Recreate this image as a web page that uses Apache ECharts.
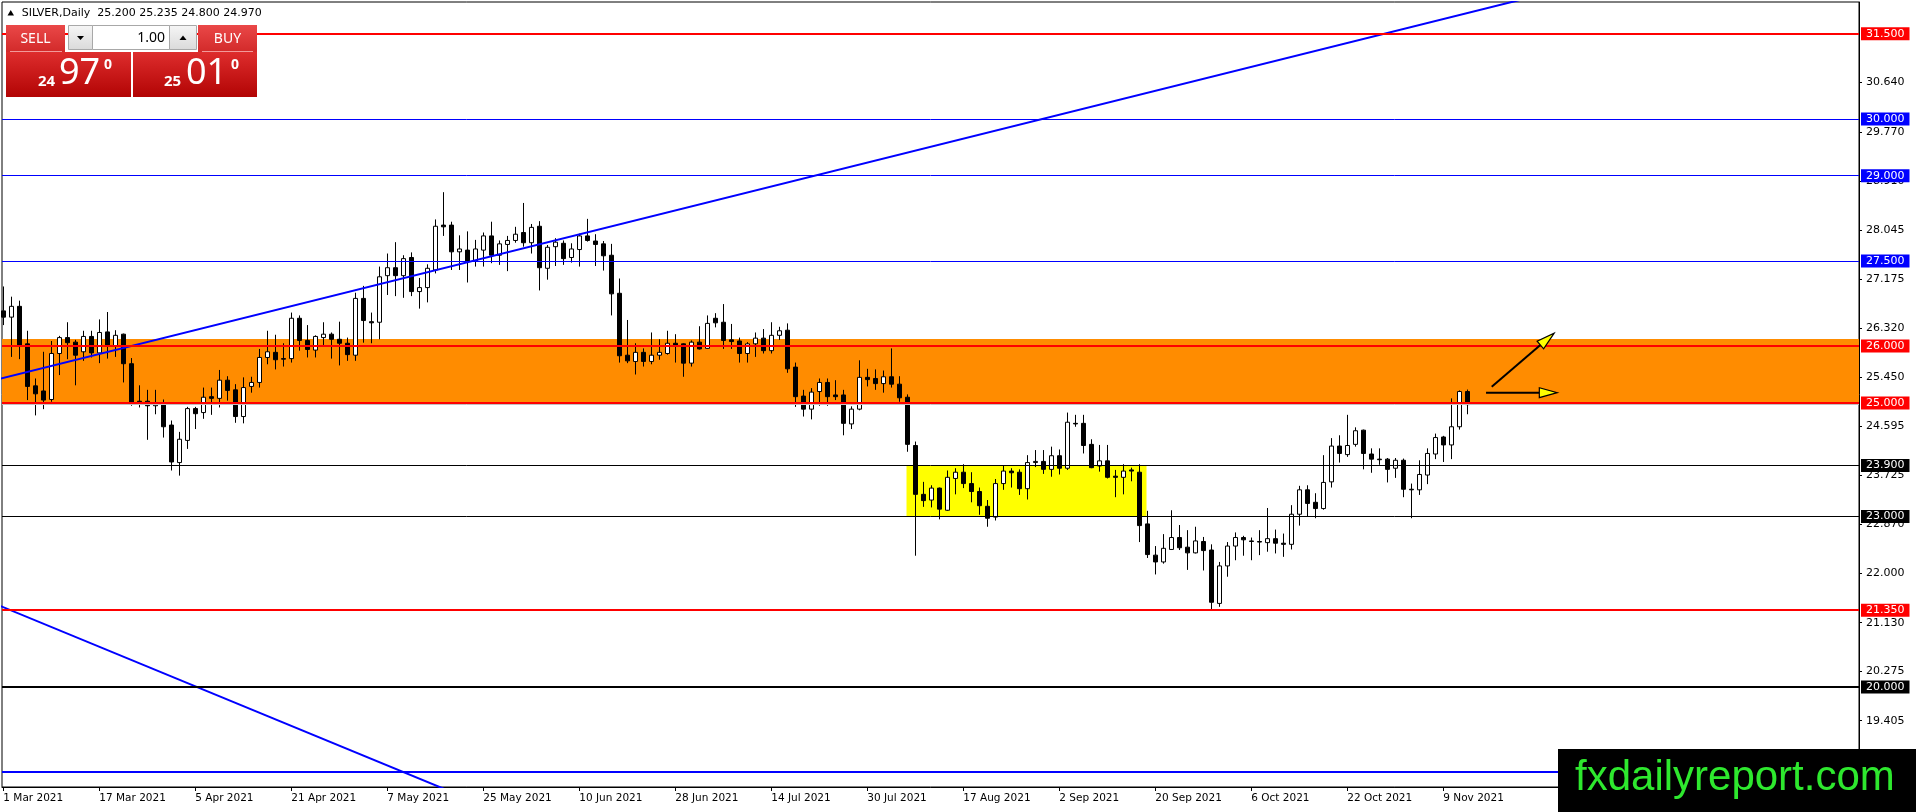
<!DOCTYPE html>
<html><head><meta charset="utf-8">
<script src="https://cdn.jsdelivr.net/npm/echarts@6/dist/echarts.min.js"></script>
<style>html,body{margin:0;padding:0;background:#fff}#c{width:1916px;height:812px}</style>
</head><body><div id="c"></div>
<script>
// ---- data ----
const dates = [
'2021.03.01','2021.03.02','2021.03.03','2021.03.04','2021.03.05','2021.03.08','2021.03.09','2021.03.10','2021.03.11','2021.03.12',
'2021.03.15','2021.03.16','2021.03.17','2021.03.18','2021.03.19','2021.03.22','2021.03.23','2021.03.24','2021.03.25','2021.03.26',
'2021.03.29','2021.03.30','2021.03.31','2021.04.01','2021.04.05','2021.04.06','2021.04.07','2021.04.08','2021.04.09','2021.04.12',
'2021.04.13','2021.04.14','2021.04.15','2021.04.16','2021.04.19','2021.04.20','2021.04.21','2021.04.22','2021.04.23','2021.04.26',
'2021.04.27','2021.04.28','2021.04.29','2021.04.30','2021.05.03','2021.05.04','2021.05.05','2021.05.06','2021.05.07','2021.05.10',
'2021.05.11','2021.05.12','2021.05.13','2021.05.14','2021.05.17','2021.05.18','2021.05.19','2021.05.20','2021.05.21','2021.05.24',
'2021.05.25','2021.05.26','2021.05.27','2021.05.28','2021.05.31','2021.06.01','2021.06.02','2021.06.03','2021.06.04','2021.06.07',
'2021.06.08','2021.06.09','2021.06.10','2021.06.11','2021.06.14','2021.06.15','2021.06.16','2021.06.17','2021.06.18','2021.06.21',
'2021.06.22','2021.06.23','2021.06.24','2021.06.25','2021.06.28','2021.06.29','2021.06.30','2021.07.01','2021.07.02','2021.07.05',
'2021.07.06','2021.07.07','2021.07.08','2021.07.09','2021.07.12','2021.07.13','2021.07.14','2021.07.15','2021.07.16','2021.07.19',
'2021.07.20','2021.07.21','2021.07.22','2021.07.23','2021.07.26','2021.07.27','2021.07.28','2021.07.29','2021.07.30','2021.08.02',
'2021.08.03','2021.08.04','2021.08.05','2021.08.06','2021.08.09','2021.08.10','2021.08.11','2021.08.12','2021.08.13','2021.08.16',
'2021.08.17','2021.08.18','2021.08.19','2021.08.20','2021.08.23','2021.08.24','2021.08.25','2021.08.26','2021.08.27','2021.08.30',
'2021.08.31','2021.09.01','2021.09.02','2021.09.03','2021.09.06','2021.09.07','2021.09.08','2021.09.09','2021.09.10','2021.09.13',
'2021.09.14','2021.09.15','2021.09.16','2021.09.17','2021.09.20','2021.09.21','2021.09.22','2021.09.23','2021.09.24','2021.09.27',
'2021.09.28','2021.09.29','2021.09.30','2021.10.01','2021.10.04','2021.10.05','2021.10.06','2021.10.07','2021.10.08','2021.10.11',
'2021.10.12','2021.10.13','2021.10.14','2021.10.15','2021.10.18','2021.10.19','2021.10.20','2021.10.21','2021.10.22','2021.10.25',
'2021.10.26','2021.10.27','2021.10.28','2021.10.29','2021.11.01','2021.11.02','2021.11.03','2021.11.04','2021.11.05','2021.11.08',
'2021.11.09','2021.11.10','2021.11.11','2021.11.12'];

const open = [
26.62,26.51,26.70,26.04,25.30,25.21,25.06,25.87,26.15,26.07,
25.90,26.17,25.88,26.25,26.01,26.21,25.69,25.03,25.03,24.95,
24.98,24.61,23.95,24.34,24.90,24.83,25.11,25.08,25.40,25.23,
24.76,25.29,25.36,25.80,25.89,25.78,25.78,26.49,26.10,25.93,
26.15,26.21,26.12,26.05,25.84,26.84,26.43,26.42,27.24,27.38,
27.24,27.56,26.96,27.03,27.34,28.13,28.13,27.66,27.69,27.50,
27.69,27.94,27.60,27.79,27.86,28.00,27.82,28.11,27.37,27.75,
27.81,27.56,27.70,27.94,27.85,27.80,27.60,26.93,25.84,25.73,
25.89,25.73,25.84,25.87,26.05,26.04,25.70,26.07,25.96,26.49,
26.42,26.11,26.09,25.87,26.04,26.14,25.92,26.19,26.28,25.63,
25.12,24.89,25.20,25.36,25.14,25.14,24.63,24.89,25.45,25.43,
25.34,25.46,25.33,25.10,24.25,23.39,23.29,23.50,23.11,23.67,
23.78,23.58,23.44,23.18,22.99,23.58,23.80,23.78,23.49,23.95,
23.97,23.83,24.07,23.85,24.64,24.64,24.27,23.89,23.98,23.71,
23.69,23.82,23.78,22.87,22.32,22.20,22.42,22.63,22.46,22.36,
22.56,22.41,21.47,22.13,22.48,22.63,22.57,22.56,22.54,22.61,
22.53,22.51,23.04,23.47,23.25,23.14,23.61,24.24,24.09,24.27,
24.52,24.10,24.01,24.01,23.85,23.99,23.48,23.47,23.73,24.10,
24.40,24.26,24.58,25.20];

const high = [
27.05,26.87,26.80,26.27,25.43,25.90,26.09,26.18,26.42,26.11,
26.27,26.27,26.47,26.60,26.28,26.22,25.79,25.31,25.23,25.23,
25.06,24.69,24.49,24.93,24.93,25.27,25.27,25.58,25.47,25.33,
25.45,25.46,25.95,26.27,26.20,26.05,26.59,26.54,26.37,26.19,
26.42,26.24,26.43,26.15,26.94,27.06,26.59,27.40,27.63,27.83,
27.60,27.65,27.20,27.44,28.23,28.71,28.19,27.95,28.02,27.87,
28.00,28.19,27.86,27.94,28.10,28.52,28.15,28.20,27.78,27.90,
27.86,27.81,27.98,28.24,27.97,27.85,27.80,27.19,26.46,26.05,
25.96,26.24,26.12,26.27,26.21,26.05,26.10,26.35,26.54,26.58,
26.74,26.39,26.15,26.07,26.24,26.30,26.42,26.34,26.40,25.71,
25.23,25.26,25.43,25.43,25.40,25.23,24.94,25.75,25.60,25.59,
25.57,25.96,25.47,25.15,24.32,23.61,23.55,23.51,23.81,23.85,
23.92,23.78,23.51,23.29,23.66,23.89,23.85,23.83,24.08,24.17,
24.17,24.23,24.18,24.83,24.79,24.79,24.36,24.26,24.26,23.82,
23.92,23.86,23.92,23.10,22.48,22.69,23.11,22.85,22.76,22.82,
22.64,22.51,22.20,22.55,22.72,22.66,22.63,22.76,23.15,22.77,
22.70,23.20,23.54,23.55,23.41,24.08,24.38,24.43,24.79,24.57,
24.53,24.20,24.20,24.03,24.03,24.02,23.58,23.99,24.20,24.46,
24.42,25.08,25.22,25.235];

const low = [
26.37,25.81,25.77,25.05,24.78,24.89,25.02,25.49,25.77,25.31,
25.74,25.80,25.70,25.78,25.81,25.36,24.95,24.92,24.35,24.80,
24.39,23.81,23.72,24.19,24.54,24.72,24.79,24.92,25.04,24.65,
24.64,25.18,25.27,25.68,25.59,25.64,25.71,25.92,25.80,25.80,
26.02,25.78,25.66,25.74,25.74,26.06,26.05,26.12,26.90,26.88,
26.85,26.88,26.66,26.77,27.28,27.94,27.34,27.34,27.12,27.40,
27.40,27.46,27.43,27.32,27.82,27.75,27.63,26.98,27.17,27.41,
27.43,27.47,27.40,27.84,27.41,27.33,26.54,25.71,25.70,25.50,
25.64,25.68,25.76,25.85,25.71,25.46,25.64,25.94,25.95,26.33,
25.95,25.95,25.71,25.71,25.81,25.87,25.87,26.11,25.53,24.93,
24.76,24.71,24.95,24.95,25.05,24.43,24.54,24.87,25.29,25.23,
25.18,25.27,25.02,24.14,22.31,23.17,23.16,22.95,23.10,23.39,
23.50,23.25,23.03,22.82,22.93,23.47,23.51,23.38,23.30,23.87,
23.75,23.70,23.74,23.82,24.58,24.11,23.85,23.79,23.67,23.34,
23.39,23.62,22.55,22.27,21.98,22.17,22.41,22.41,22.06,22.35,
22.05,21.37,21.41,21.94,22.23,22.31,22.23,22.32,22.38,22.35,
22.29,22.42,22.84,23.00,22.97,23.12,23.51,23.95,24.05,24.23,
23.83,23.77,23.91,23.60,23.68,23.34,22.97,23.38,23.57,24.01,
23.96,24.01,24.53,24.80];

const close = [
26.51,26.70,26.02,25.29,25.16,25.05,25.87,26.15,26.06,25.84,
26.17,25.88,26.24,26.02,26.19,25.69,25.01,25.02,24.95,24.98,
24.58,23.96,24.36,24.90,24.81,25.10,25.08,25.40,25.22,24.76,
25.27,25.36,25.80,25.90,25.76,25.77,26.49,26.10,25.94,26.17,
26.21,26.12,26.05,25.85,26.84,26.45,26.41,27.22,27.38,27.24,
27.54,26.96,27.03,27.37,28.11,28.10,27.66,27.71,27.50,27.71,
27.94,27.60,27.80,27.86,27.97,27.82,28.09,27.38,27.74,27.83,
27.54,27.71,27.94,27.86,27.79,27.59,26.92,25.83,25.74,25.89,
25.73,25.84,25.89,26.05,26.02,25.70,26.07,25.95,26.40,26.41,
26.10,26.08,25.87,26.04,26.14,25.92,26.19,26.27,25.60,25.11,
24.89,25.19,25.36,25.11,25.11,24.64,24.89,25.45,25.41,25.34,
25.46,25.33,25.09,24.27,23.39,23.28,23.50,23.13,23.69,23.78,
23.58,23.44,23.19,22.97,23.58,23.80,23.77,23.49,23.95,23.97,
23.83,24.07,23.85,24.66,24.63,24.25,23.86,23.98,23.69,23.69,
23.80,23.80,22.84,22.33,22.20,22.44,22.63,22.45,22.36,22.57,
22.40,21.49,22.13,22.48,22.63,22.59,22.56,22.55,22.61,22.53,
22.51,23.04,23.47,23.23,23.14,23.60,24.24,24.11,24.25,24.51,
24.11,24.01,24.00,23.83,23.99,23.48,23.47,23.74,24.11,24.39,
24.26,24.58,25.20,24.97];

const dateTickIdx = [0,12,24,36,48,60,72,84,96,108,120,132,144,156,168,180];
const priceTicks = [19.405,20.275,21.130,22.000,22.870,23.725,24.595,25.450,26.320,27.175,28.045,28.910,29.770,30.640];
const levelValues = [31.5,30.0,29.0,27.5,26.0,25.0,23.9,23.0,21.35,20.0,18.5];
const bidPrice = 24.97;
const zoneX0 = [-5, 112.9];
const zoneX1 = [240, 142.9];
const zoneY0 = [25.0, 23.0];
const zoneY1 = [26.125, 23.9];
const upTrend = [[-1, 25.405], [200, 32.46]];
const downTrend = [[-1, 21.461], [60, 17.921]];
const arrowStart = [[186.05, 25.285], [185.34, 25.18]];
const arrowEnd = [[193.84, 26.225], [194.25, 25.18]];
const titleText = 'SILVER,Daily  25.200 25.235 24.800 24.970';

// ---- styles ----
const levelColors = ['#ff0000','#0000ff','#0000ff','#0000ff','#ff0000','#ff0000','#000000','#000000','#ff0000','#000000','#0000ff'];
const levelWidths = [2,1,1,1,2,2,1,1,2,2,2];
const zoneColors = ['#ff8c00','#ffff00'];
const AX_FONT = '"DejaVu Sans", Verdana, sans-serif';
const MON = ['Jan','Feb','Mar','Apr','May','Jun','Jul','Aug','Sep','Oct','Nov','Dec'];
function fmtDate(s){ const p = s.split('.'); return (+p[2]) + ' ' + MON[+p[1]-1] + ' ' + p[0]; }

const candleData = dates.map((d,i)=>[i, open[i], close[i], low[i], high[i]]);

const chart = echarts.init(document.getElementById('c'), null, {renderer:'canvas'});

const redGrad = () => new echarts.graphic.LinearGradient(0,0,0,1,[{offset:0,color:'#ea4848'},{offset:1,color:'#d22a2a'}]);
const bigGrad = () => new echarts.graphic.LinearGradient(0,0,0,1,[{offset:0,color:'#de2d2d'},{offset:1,color:'#b20404'}]);
const greyGrad = () => new echarts.graphic.LinearGradient(0,0,0,1,[{offset:0,color:'#f6f6f6'},{offset:1,color:'#dadada'}]);
const PF = '"Noto Sans", Roboto, sans-serif';

const option = {
  animation: false,
  backgroundColor: '#ffffff',
  grid: { left: 2, right: 57, top: 2, bottom: 25, show: true, borderColor: '#000', borderWidth: 1, backgroundColor: '#fff' },
  xAxis: {
    type: 'value', min: -0.1625, max: 231.96, position: 'bottom',
    axisLine: { show: true, onZero: false, lineStyle: { color: '#000', width: 1 } },
    axisTick: { show: true, customValues: dateTickIdx, length: 4, lineStyle: { color: '#000' } },
    axisLabel: { customValues: dateTickIdx, formatter: v => { const d = dates[Math.round(v)]; return d ? fmtDate(d) : ''; },
      align: 'left', margin: 6, color: '#000', fontSize: 10.5, fontFamily: AX_FONT },
    splitLine: { show: false }
  },
  yAxis: {
    type: 'value', min: 18.238, max: 32.058, position: 'right', scale: true,
    axisLine: { show: true, onZero: false, lineStyle: { color: '#000', width: 1 } },
    axisTick: { show: true, customValues: priceTicks, length: 3, lineStyle: { color: '#000' } },
    axisLabel: { customValues: priceTicks, formatter: v => v.toFixed(3), margin: 7, color: '#000', fontSize: 11, fontFamily: AX_FONT, align: 'left' },
    splitLine: { show: false }
  },
  series: [
    {
      type: 'custom', name: 'zones', z: 1, silent: true,
      data: zoneX0.map((x,i)=>[x, zoneX1[i], zoneY0[i], zoneY1[i]]),
      encode: { x: [0,1], y: [2,3] },
      renderItem: (params, api) => {
        const p1 = api.coord([api.value(0), api.value(3)]);
        const p2 = api.coord([api.value(1), api.value(2)]);
        const cs = params.coordSys;
        const r = echarts.graphic.clipRectByRect(
          { x: p1[0], y: p1[1], width: p2[0]-p1[0], height: p2[1]-p1[1] },
          { x: cs.x, y: cs.y, width: cs.width, height: cs.height });
        return r ? { type: 'rect', shape: r, style: { fill: zoneColors[params.dataIndex] } } : null;
      }
    },
    {
      type: 'candlestick', name: 'SILVER', z: 3, barWidth: 4,
      data: candleData,
      encode: { x: 0, y: [1,2,3,4] },
      itemStyle: { color: '#ffffff', color0: '#000000', borderColor: '#000000', borderColor0: '#000000', borderColorDoji: '#000000', borderWidth: 1 },
      markLine: {
        silent: true, symbol: ['none','none'], z: 6,
        data: [
          { yAxis: bidPrice, lineStyle: { color: '#c0c0c0', width: 1, type: 'solid' }, label: { show: false } }
        ].concat(levelValues.map((v,i)=>({
          yAxis: v,
          lineStyle: { color: levelColors[i], width: levelWidths[i], type: 'solid' },
          label: { show: true, position: 'end', distance: 2, formatter: p => (+p.value).toFixed(3),
            color: '#fff', backgroundColor: levelColors[i], padding: [1,5,1,5], fontSize: 11, lineHeight: 11, fontFamily: AX_FONT }
        })))
      }
    },
    { type: 'line', name: 'upTrend', z: 5, data: upTrend, symbol: 'none', silent: true, lineStyle: { color: '#0000ff', width: 2 } },
    { type: 'line', name: 'downTrend', z: 5, data: downTrend, symbol: 'none', silent: true, lineStyle: { color: '#0000ff', width: 2 } },
    {
      type: 'custom', name: 'arrows', z: 7, silent: true,
      data: arrowStart.map((s,i)=>[s[0], s[1], arrowEnd[i][0], arrowEnd[i][1]]),
      encode: { x: [0,2], y: [1,3] },
      renderItem: (params, api) => {
        const a = api.coord([api.value(0), api.value(1)]);
        const b = api.coord([api.value(2), api.value(3)]);
        const dx = b[0]-a[0], dy = b[1]-a[1], len = Math.hypot(dx,dy), ux = dx/len, uy = dy/len;
        const hl = 18, hw = 5;
        const base = [b[0]-ux*hl, b[1]-uy*hl];
        const l = [base[0]-uy*hw, base[1]+ux*hw], r = [base[0]+uy*hw, base[1]-ux*hw];
        return { type: 'group', children: [
          { type: 'line', shape: { x1: a[0], y1: a[1], x2: base[0], y2: base[1] }, style: { stroke: '#000', lineWidth: 2 } },
          { type: 'polygon', shape: { points: [b, l, r] }, style: { fill: '#ffff00', stroke: '#000', lineWidth: 1.2 } }
        ]};
      }
    }
  ],
  graphic: [
    { type: 'polygon', z: 100, shape: { points: [[7.5,15.5],[14,15.5],[10.75,10]] }, style: { fill: '#000' } },
    { type: 'text', z: 100, x: 21.7, y: 13, style: { text: titleText, fill: '#000', font: '11px ' + AX_FONT, textVerticalAlign: 'middle' } },
    // sell / buy buttons
    { type: 'rect', z: 100, shape: { x: 6, y: 25, width: 59, height: 27 }, style: { fill: redGrad() } },
    { type: 'line', z: 101, shape: { x1: 10, y1: 51.5, x2: 62, y2: 51.5 }, style: { stroke: '#f29a9a', lineWidth: 1 } },
    { type: 'text', z: 101, x: 35.5, y: 39, style: { text: 'SELL', fill: '#fff', font: '14px ' + PF, textAlign: 'center', textVerticalAlign: 'middle' } },
    { type: 'rect', z: 100, shape: { x: 68.5, y: 25.5, width: 24, height: 24 }, style: { fill: greyGrad(), stroke: '#a8a8a8', lineWidth: 1 } },
    { type: 'polygon', z: 101, shape: { points: [[77,36],[84,36],[80.5,40]] }, style: { fill: '#000' } },
    { type: 'rect', z: 100, shape: { x: 92.5, y: 25.5, width: 77, height: 24 }, style: { fill: '#fff', stroke: '#a8a8a8', lineWidth: 1 } },
    { type: 'text', z: 101, x: 165, y: 38, style: { text: '1.00', fill: '#000', font: '14px ' + PF, textAlign: 'right', textVerticalAlign: 'middle' } },
    { type: 'rect', z: 100, shape: { x: 169.5, y: 25.5, width: 27, height: 24 }, style: { fill: greyGrad(), stroke: '#a8a8a8', lineWidth: 1 } },
    { type: 'polygon', z: 101, shape: { points: [[179.5,40],[186.5,40],[183,35.5]] }, style: { fill: '#000' } },
    { type: 'rect', z: 100, shape: { x: 198, y: 25, width: 59, height: 27 }, style: { fill: redGrad() } },
    { type: 'line', z: 101, shape: { x1: 202, y1: 51.5, x2: 253, y2: 51.5 }, style: { stroke: '#f29a9a', lineWidth: 1 } },
    { type: 'text', z: 101, x: 227.5, y: 39, style: { text: 'BUY', fill: '#fff', font: '14px ' + PF, textAlign: 'center', textVerticalAlign: 'middle' } },
    // price boxes
    { type: 'rect', z: 100, shape: { x: 6, y: 52, width: 125, height: 45 }, style: { fill: bigGrad() } },
    { type: 'rect', z: 100, shape: { x: 133, y: 52, width: 124, height: 45 }, style: { fill: bigGrad() } },
    { type: 'text', z: 101, x: 38, y: 82, style: { text: '24', fill: '#fff', font: 'bold 15px ' + PF, textVerticalAlign: 'middle' } },
    { type: 'text', z: 101, x: 59, y: 74, style: { text: '97', fill: '#fff', font: '36px ' + PF, textVerticalAlign: 'middle' } },
    { type: 'text', z: 101, x: 104, y: 65, style: { text: '0', fill: '#fff', font: 'bold 14px ' + PF, textVerticalAlign: 'middle' } },
    { type: 'text', z: 101, x: 164, y: 82, style: { text: '25', fill: '#fff', font: 'bold 15px ' + PF, textVerticalAlign: 'middle' } },
    { type: 'text', z: 101, x: 186, y: 74, style: { text: '01', fill: '#fff', font: '36px ' + PF, textVerticalAlign: 'middle' } },
    { type: 'text', z: 101, x: 231, y: 65, style: { text: '0', fill: '#fff', font: 'bold 14px ' + PF, textVerticalAlign: 'middle' } },
    // watermark
    { type: 'rect', z: 100, shape: { x: 1558, y: 749, width: 358, height: 63 }, style: { fill: '#000' } },
    { type: 'text', z: 101, x: 1575, y: 778, style: { text: 'fxdailyreport.com', fill: '#2ee82e', font: '42px "Liberation Sans", Arial, sans-serif', textVerticalAlign: 'middle' } }
  ]
};
chart.setOption(option);
</script>
</body></html>
